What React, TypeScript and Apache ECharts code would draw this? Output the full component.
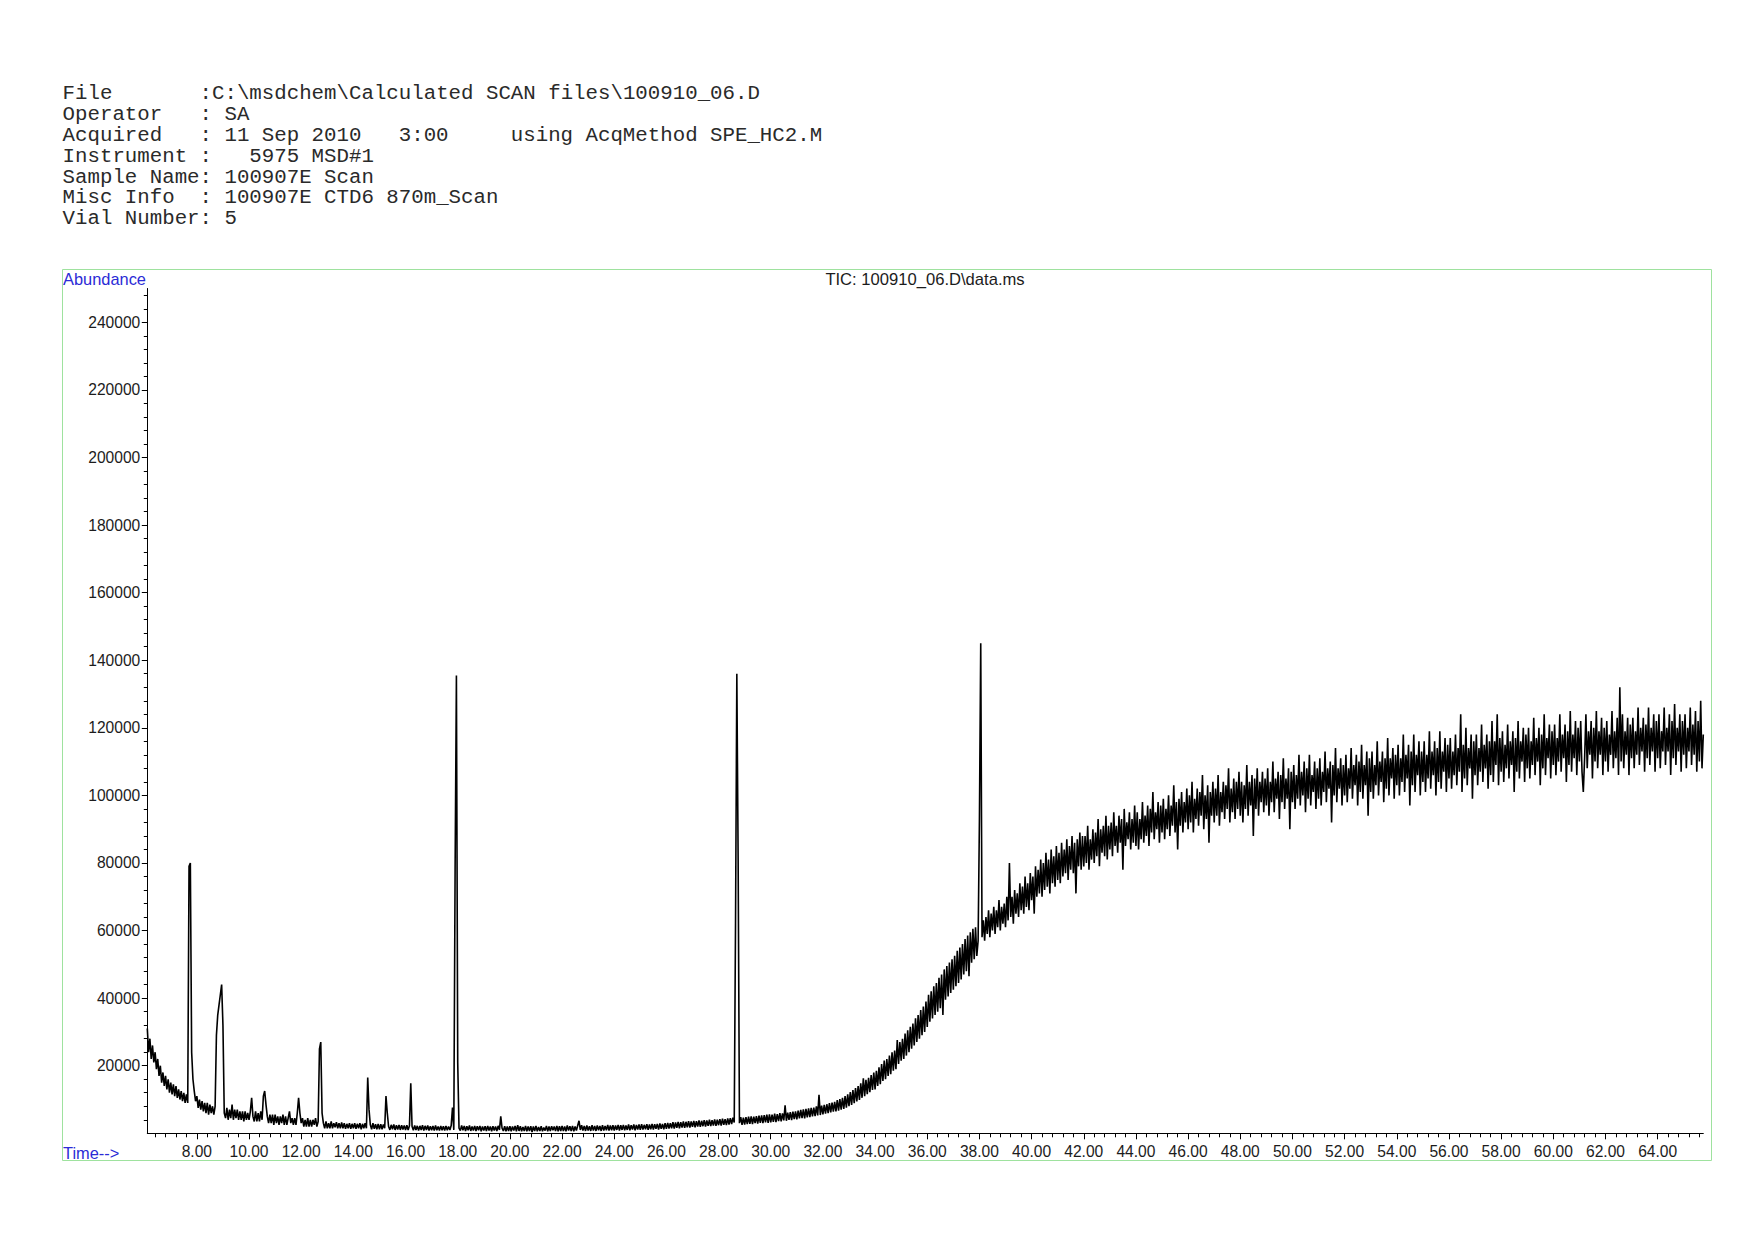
import React, { useEffect, useRef } from "react";
import * as echarts from "echarts";

// ---------- text content ----------
const HEADER_ROWS: [number, string][][] = [
  [[0, "File"], [11, ":C:\\msdchem\\Calculated SCAN files\\100910_06.D"]],
  [[0, "Operator"], [11, ": SA"]],
  [[0, "Acquired"], [11, ": 11 Sep 2010"], [27, "3:00"], [36, "using AcqMethod SPE_HC2.M"]],
  [[0, "Instrument :"], [15, "5975 MSD#1"]],
  [[0, "Sample Name: 100907E Scan"]],
  [[0, "Misc Info"], [11, ": 100907E CTD6 870m_Scan"]],
  [[0, "Vial Number: 5"]],
];
const TITLE = "TIC: 100910_06.D\\data.ms";
const Y_NAME = "Abundance";
const X_NAME = "Time-->";

// ---------- axes ----------
const X_MIN = 6.1;
const X_MAX = 65.75;
const Y_MIN = 0;
const Y_MAX = 250000;
const X_TICK_LABELS = [8, 10, 12, 14, 16, 18, 20, 22, 24, 26, 28, 30, 32, 34, 36, 38, 40, 42, 44, 46, 48, 50, 52, 54, 56, 58, 60, 62, 64];
const Y_TICK_LABELS = [20000, 40000, 60000, 80000, 100000, 120000, 140000, 160000, 180000, 200000, 220000, 240000];

// ---------- data: abundance (x1000) sampled every 0.05 min, by segment ----------
const T_STEP = 0.05;
const SEG_STARTS = [6.1, 10, 14, 18, 22, 26, 30, 34, 38, 42, 46, 50, 54, 58, 62];

const seg06 = [
  31, 24, 28, 22, 26, 21, 24, 19, 22, 17,
  20, 15, 18, 14, 17, 13, 16, 12, 15, 11.5,
  14.5, 11, 14, 10.5, 13, 10, 12.5, 9.5, 12, 9,
  11.5, 9, 79, 80, 24, 16, 12.5, 9.5, 11, 7.5,
  10, 7, 9.5, 6.5, 9, 6, 9, 5.5, 8.5, 6,
  8, 5.5, 8, 29, 35, 38, 41, 44, 32, 6,
  4.5, 7.5, 4, 7, 4.5, 8.5, 4, 7, 4.5, 7,
  4, 6.5, 4, 6.5, 3.5, 6.5, 4, 6,
];
const seg10 = [
  4, 6.5, 10.5, 5, 3.5, 6.5, 3.5, 6, 3.5, 6.5,
  4, 11, 12.5, 8.5, 5, 3, 5.5, 3, 5.5, 2.5,
  5.5, 3, 5, 2.5, 5, 3, 5.5, 2.5, 5, 2.5,
  4.5, 6.5, 3, 4.5, 2.5, 4.5, 2.5, 6, 10.5, 6,
  3, 4.5, 2, 4, 2, 4.5, 2, 4, 2, 4,
  2.5, 4.5, 2, 3.5, 25, 27, 6, 3, 1.5, 3.5,
  1.5, 3, 1.5, 3.5, 1.5, 3, 1.8, 3.3, 1.5, 3,
  1.5, 3.2, 1.5, 3, 1.3, 2.8, 1.5, 3, 1.3, 2.8,
];
const seg14 = [
  1.5, 3, 1.3, 2.8, 1.5, 3, 1.2, 2.8, 1.5, 3,
  1.5, 16.5, 7, 2.5, 1.2, 3, 1.3, 2.7, 1.2, 2.8,
  1.2, 2.7, 1.2, 2.6, 1.5, 11, 6, 2, 1, 2.5,
  1.2, 2.6, 1, 2.4, 1.1, 2.5, 1, 2.4, 1.1, 2.3,
  1, 2.4, 1, 2.2, 14.8, 2, 0.9, 2.3, 1, 2.2,
  0.8, 2.2, 1, 2.4, 0.8, 2.2, 1, 2.3, 0.8, 2.1,
  0.9, 2.2, 0.8, 2.3, 0.9, 2, 0.8, 2.2, 0.9, 2.1,
  0.8, 2.2, 0.9, 2, 1, 2.3, 7.6, 1, 78, 135.5,
];
const seg18 = [
  21, 1.5, 0.8, 2.3, 0.9, 2.2, 0.7, 2.1, 0.9, 2.3,
  0.7, 2, 0.8, 2.2, 0.7, 2.1, 0.9, 2.2, 0.6, 2,
  0.8, 2.1, 0.7, 2.2, 0.8, 2, 0.6, 2.1, 0.8, 2,
  0.7, 2.2, 1, 5, 1.5, 0.7, 2.1, 0.6, 2, 0.7,
  2.1, 0.6, 2, 0.8, 2.2, 0.6, 2.4, 0.7, 2.1, 0.6,
  1.9, 0.7, 2.2, 0.6, 2, 0.7, 2.1, 0.4, 2, 0.7,
  2.2, 0.6, 1.9, 0.7, 2.1, 0.6, 1.7, 0.8, 2.2, 0.6,
  2, 0.7, 2.1, 0.9, 2, 0.7, 2.2, 0.6, 2.1, 0.7,
];
const seg22 = [
  2.2, 0.7, 2, 0.6, 2.3, 0.8, 2.1, 0.7, 2.2, 0.6,
  2, 0.8, 2.3, 3.7, 1, 2.4, 0.8, 2.2, 0.7, 2.3,
  0.8, 2.1, 0.7, 2.4, 0.8, 2.2, 0.7, 2.3, 0.9, 2.2,
  0.7, 2.4, 0.8, 2.2, 0.9, 2.5, 0.8, 2.3, 0.9, 2.4,
  0.8, 2.3, 1, 2.5, 0.8, 2.4, 1, 2.5, 0.9, 2.3,
  1, 2.6, 0.9, 2.4, 1.1, 2.6, 0.9, 2.5, 1.1, 2.6,
  1, 2.7, 1.1, 2.5, 1.2, 2.7, 1, 2.6, 1.2, 2.8,
  1.1, 2.7, 1.3, 2.8, 1.1, 2.9, 1.3, 2.8, 1.2, 3,
];
const seg26 = [
  1.3, 3.1, 1.4, 3, 1.5, 3.3, 1.4, 3.2, 1.6, 3.4,
  1.5, 3.3, 1.7, 3.5, 1.6, 3.4, 1.8, 3.6, 1.7, 3.5,
  1.9, 3.7, 1.8, 3.6, 2, 3.8, 1.9, 3.7, 2.1, 3.9,
  2, 3.8, 2.2, 4, 2.1, 3.9, 2.3, 4.1, 2.2, 4,
  2.4, 4.2, 2.3, 4.3, 2.5, 4.2, 2.4, 4.4, 2.6, 4.5,
  2.7, 4.6, 3.2, 62, 136, 81, 3, 4.8, 2.5, 4.6,
  2.6, 4.8, 2.7, 4.9, 2.8, 5, 2.7, 4.9, 3, 5.1,
  2.9, 5.2, 3.1, 5.3, 3, 5.4, 3.2, 5.5, 3.1, 5.6,
];
const seg30 = [
  3.2, 5.5, 3.4, 5.8, 3.3, 5.7, 3.6, 6, 3.5, 5.9,
  3.8, 8.3, 3.7, 6.1, 4, 6.3, 3.9, 6.4, 4.2, 6.5,
  4.1, 6.7, 4.4, 6.9, 4.5, 7.1, 4.4, 7.2, 4.7, 7.4,
  4.8, 7.5, 5, 7.6, 5.1, 8, 5.3, 11.4, 5.4, 8.2,
  5.6, 8.4, 5.8, 8.6, 6, 8.9, 6.2, 9.1, 6.4, 9.3,
  6.5, 9.8, 6.7, 10.1, 7, 10.5, 7.2, 11, 7.6, 11.5,
  8, 12.2, 8.4, 12.8, 8.9, 13.4, 9.4, 14, 9.9, 14.8,
  10.5, 16.3, 11, 15.8, 11.6, 16.4, 12.2, 17.2, 12.8, 18,
];
const seg34 = [
  13, 18.5, 14, 19.5, 14.5, 20.5, 15.5, 21.5, 16, 22,
  17, 23, 17.5, 24, 18.5, 24.5, 19, 27.6, 20.5, 27,
  21.5, 28, 22, 29.5, 23, 30.5, 24, 31.5, 25, 32.5,
  26, 34, 27, 35, 28, 36.5, 29, 37.5, 30, 39,
  31.5, 41, 33, 42, 34, 43.5, 35, 44.5, 36, 46,
  37, 47, 35, 48.5, 39.5, 49.5, 40.5, 50.5, 41.5, 51.5,
  42.5, 52.5, 43.5, 54, 44.5, 55, 45.5, 56, 47, 57.5,
  48, 58.5, 46.5, 59.5, 50.5, 60.5, 51.5, 61, 52.5, 57,
];
const seg38 = [
  93, 145, 58, 63, 57, 64, 59, 66, 58, 65,
  60, 67, 59, 66, 61, 69, 60, 67, 62, 68,
  61, 70, 63, 80, 64, 70, 62, 72, 65, 71,
  64, 74, 66, 73, 65, 76, 67, 74, 66, 77,
  69, 76, 65, 79, 70, 78, 71, 81, 70, 80,
  72, 83, 73, 81, 71, 84, 74, 82, 73, 85,
  75, 83, 74, 86, 76, 84, 77, 87, 75, 85,
  78, 88, 77, 86, 71, 87, 79, 89, 78, 88,
];
const seg42 = [
  79, 88, 80, 91, 78, 87, 81, 90, 80, 89,
  82, 93, 79, 90, 83, 91, 82, 94, 81, 91,
  84, 92, 82, 95, 85, 91, 83, 94, 86, 93,
  78, 96, 85, 92, 87, 95, 84, 93, 86, 97,
  85, 95, 84, 93, 87, 98, 86, 94, 88, 97,
  85, 96, 89, 101, 87, 95, 90, 98, 86, 97,
  89, 99, 87, 96, 90, 100, 88, 97, 91, 103,
  89, 98, 84, 99, 91, 101, 89, 98, 92, 102,
];
const seg46 = [
  90, 100, 92, 104, 89, 99, 93, 102, 91, 101,
  94, 106, 90, 100, 93, 103, 86, 101, 94, 104,
  92, 102, 94, 106, 91, 101, 95, 104, 93, 103,
  96, 108, 92, 102, 95, 105, 93, 104, 96, 107,
  94, 104, 92, 103, 96, 109, 94, 104, 97, 106,
  88, 105, 96, 108, 94, 104, 98, 107, 95, 105,
  97, 108, 94, 104, 98, 110, 95, 105, 99, 107,
  93, 106, 98, 111, 96, 105, 99, 108, 90, 107,
];
const seg50 = [
  98, 109, 96, 106, 99, 112, 97, 107, 100, 110,
  95, 108, 99, 112, 97, 106, 101, 110, 96, 108,
  99, 111, 97, 107, 101, 113, 98, 108, 102, 110,
  92, 109, 100, 114, 98, 108, 102, 111, 97, 109,
  100, 112, 98, 108, 102, 114, 99, 109, 103, 112,
  97, 110, 101, 115, 99, 109, 103, 113, 94, 111,
  101, 113, 99, 109, 103, 116, 100, 110, 104, 113,
  98, 111, 102, 117, 100, 111, 105, 114, 99, 112,
];
const seg54 = [
  103, 115, 100, 111, 104, 118, 101, 112, 105, 115,
  97, 113, 103, 118, 101, 112, 106, 116, 100, 113,
  104, 116, 101, 112, 105, 119, 102, 113, 106, 116,
  100, 114, 104, 119, 102, 113, 107, 117, 101, 115,
  105, 117, 102, 113, 106, 118, 103, 114, 107, 124,
  101, 115, 105, 120, 103, 114, 108, 118, 99, 116,
  106, 118, 103, 114, 107, 121, 104, 115, 108, 118,
  102, 116, 106, 122, 104, 116, 109, 124, 103, 117,
];
const seg58 = [
  107, 119, 104, 115, 108, 121, 105, 116, 109, 119,
  101, 117, 107, 122, 105, 116, 110, 120, 104, 118,
  108, 120, 105, 116, 109, 123, 106, 117, 110, 120,
  103, 118, 108, 124, 106, 117, 111, 121, 105, 119,
  109, 121, 106, 117, 110, 124, 107, 118, 111, 121,
  104, 119, 109, 125, 107, 118, 111, 122, 106, 120,
  110, 122, 107, 101, 111, 124, 108, 119, 112, 122,
  105, 120, 110, 125, 108, 119, 112, 123, 106, 120,
];
const seg62 = [
  110, 122, 107, 118, 112, 125, 108, 119, 111, 123,
  106, 132, 110, 124, 108, 119, 112, 123, 106, 121,
  111, 123, 108, 119, 112, 126, 109, 120, 113, 123,
  107, 121, 111, 126, 109, 120, 113, 124, 107, 122,
  111, 124, 108, 119, 113, 126, 109, 120, 113, 124,
  106, 122, 111, 127, 109, 120, 113, 124, 107, 122,
  112, 124, 108, 120, 113, 126, 109, 121, 112, 125,
  107, 122, 110, 128, 108, 118,
];
const SEGMENTS = [seg06, seg10, seg14, seg18, seg22, seg26, seg30, seg34, seg38, seg42, seg46, seg50, seg54, seg58, seg62];

// ---------- layout / style ----------
const W = 1754;
const H = 1240;
const GRID = { left: 147.3, right: 50.7, top: 288.5, bottom: 106.7 };
const MONO = "'Courier New', 'Liberation Mono', monospace";
const SANS = "Arial, 'Liberation Sans', sans-serif";
const BLUE = "#2b2bd6";
const INK = "#1c1c1c";

function buildSeries(): [number, number][] {
  const out: [number, number][] = [];
  SEGMENTS.forEach((seg, s) => {
    seg.forEach((v, j) => {
      const t = Math.round((SEG_STARTS[s] + j * T_STEP) * 100) / 100;
      out.push([t, v * 1000]);
    });
  });
  return out;
}

function minorXTicks(): number[] {
  const out: number[] = [];
  for (let k = 16; k <= 164; k++) {
    if (k % 5 !== 0) out.push(Math.round(k * 4) / 10);
  }
  return out;
}

export default function App() {
  const ref = useRef<HTMLDivElement>(null);

  useEffect(() => {
    if (!ref.current) return;
    const chart = echarts.init(ref.current, undefined, { renderer: "svg", width: W, height: H });

    const CHAR_W = 12.45;
    const X0 = 62.6;
    const Y0 = 93.5;
    const LINE_H = 20.88;
    const headerEls: any[] = [];
    HEADER_ROWS.forEach((row, i) => {
      row.forEach(([col, text]) => {
        headerEls.push({
          type: "text",
          x: X0 + col * CHAR_W,
          y: Y0 + i * LINE_H,
          silent: true,
          style: {
            text,
            fill: "#2a2a2a",
            fontSize: 20.75,
            fontFamily: MONO,
            align: "left",
            verticalAlign: "middle",
          },
        });
      });
    });

    const option: any = {
      animation: false,
      backgroundColor: "#ffffff",
      grid: { ...GRID, containLabel: false },
      xAxis: [
        {
          type: "value",
          min: X_MIN,
          max: X_MAX,
          position: "bottom",
          splitLine: { show: false },
          axisLine: { show: true, onZero: false, lineStyle: { color: "#000", width: 1 } },
          axisTick: { show: true, length: 6, customValues: X_TICK_LABELS, lineStyle: { color: "#000", width: 1 } },
          axisLabel: {
            show: true,
            customValues: X_TICK_LABELS,
            formatter: (v: number) => v.toFixed(2),
            color: INK,
            fontSize: 15.6,
            fontFamily: SANS,
            margin: 10.5,
          },
        },
        {
          type: "value",
          min: X_MIN,
          max: X_MAX,
          position: "bottom",
          splitLine: { show: false },
          axisLine: { show: false, onZero: false },
          axisTick: { show: true, length: 4, customValues: minorXTicks(), lineStyle: { color: "#000", width: 1 } },
          axisLabel: { show: false },
        },
      ],
      yAxis: {
        type: "value",
        min: Y_MIN,
        max: Y_MAX,
        interval: 20000,
        splitLine: { show: false },
        axisLine: { show: true, onZero: false, lineStyle: { color: "#000", width: 1 } },
        axisTick: { show: true, length: 5.5, customValues: Y_TICK_LABELS, lineStyle: { color: "#000", width: 1 } },
        minorTick: { show: true, splitNumber: 5, length: 3.5, lineStyle: { color: "#000", width: 1 } },
        axisLabel: {
          show: true,
          customValues: Y_TICK_LABELS,
          formatter: (v: number) => String(v),
          color: INK,
          fontSize: 15.6,
          fontFamily: SANS,
          margin: 7,
        },
      },
      series: [
        {
          type: "line",
          xAxisIndex: 0,
          yAxisIndex: 0,
          data: buildSeries(),
          symbol: "none",
          showSymbol: false,
          silent: true,
          clip: true,
          lineStyle: { color: "#000", width: 1.6, join: "bevel" },
          z: 3,
        },
      ],
      graphic: [
        {
          type: "rect",
          silent: true,
          shape: { x: 62.5, y: 269.5, width: 1649, height: 891 },
          style: { fill: "none", stroke: "#9ee29e", lineWidth: 1 },
          z: 1,
        },
        {
          type: "text",
          x: 63,
          y: 278.5,
          silent: true,
          style: { text: Y_NAME, fill: BLUE, fontSize: 16.4, fontFamily: SANS, align: "left", verticalAlign: "middle" },
        },
        {
          type: "text",
          x: 63,
          y: 1152.5,
          silent: true,
          style: { text: X_NAME, fill: BLUE, fontSize: 16.4, fontFamily: SANS, align: "left", verticalAlign: "middle" },
        },
        {
          type: "text",
          x: 925,
          y: 279.5,
          silent: true,
          style: { text: TITLE, fill: INK, fontSize: 16.6, fontFamily: SANS, align: "center", verticalAlign: "middle" },
        },
        ...headerEls,
      ],
    };

    chart.setOption(option);
    return () => {
      chart.dispose();
    };
  }, []);

  return (
    <div
      ref={ref}
      style={{ position: "absolute", left: 0, top: 0, width: W, height: H, background: "#fff" }}
    />
  );
}
